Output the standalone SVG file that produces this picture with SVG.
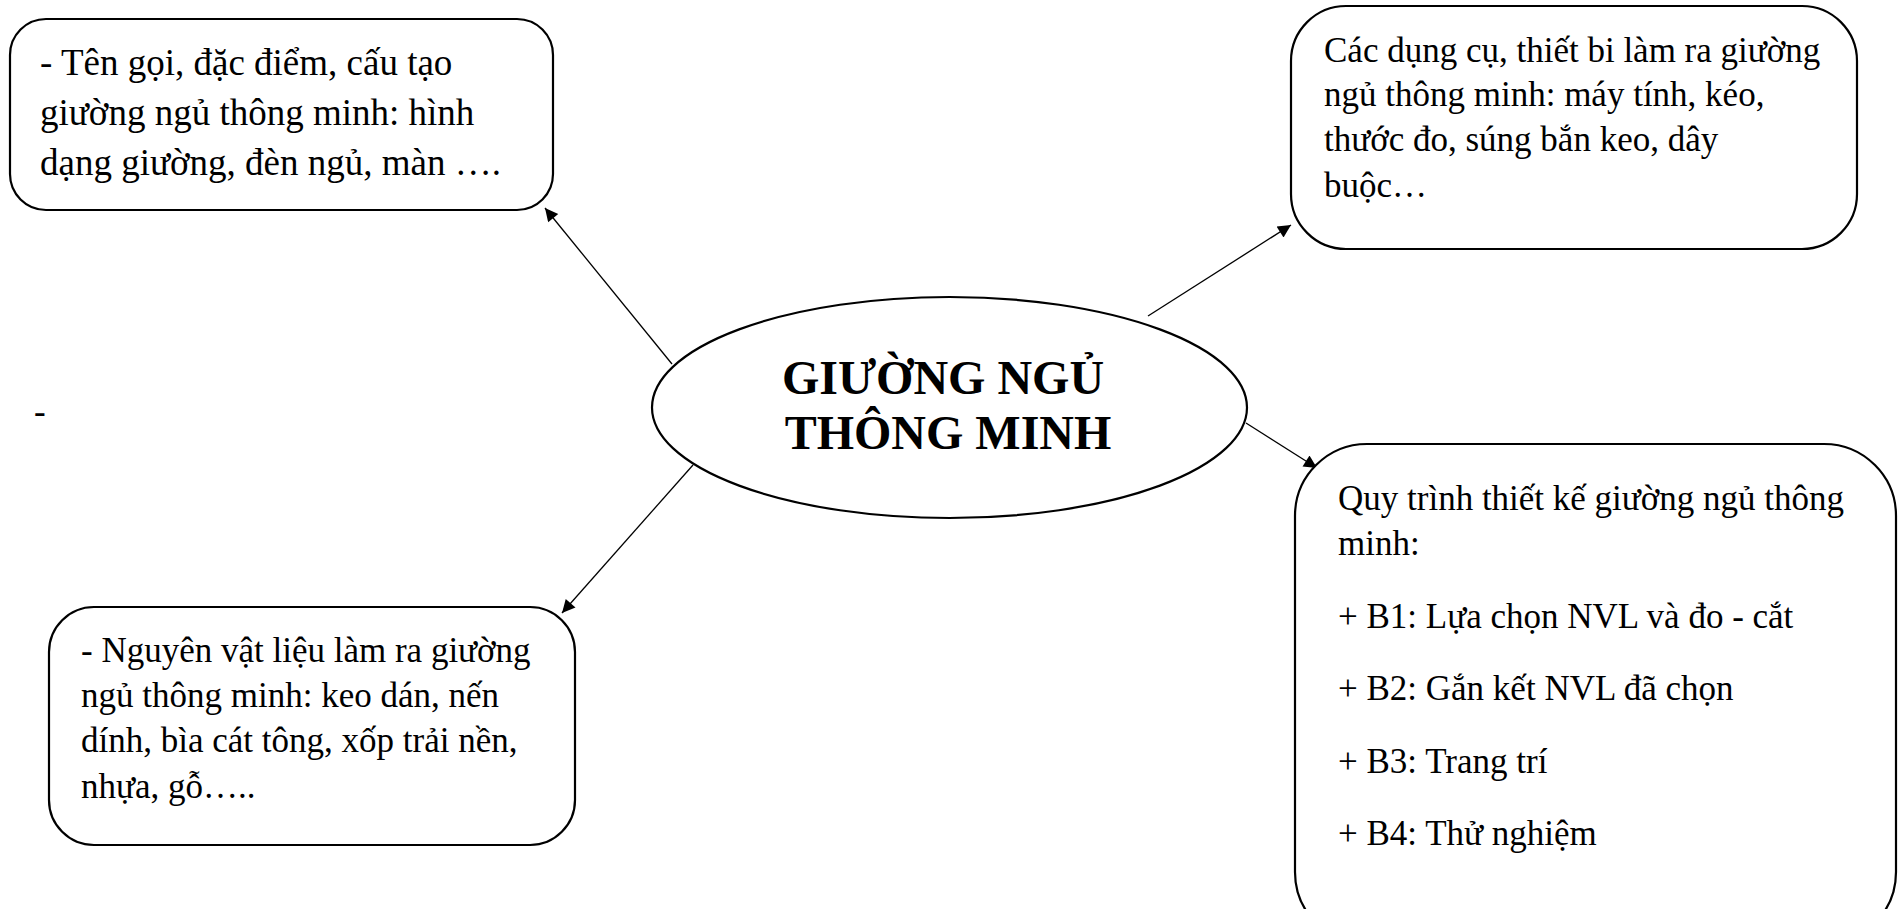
<svg xmlns="http://www.w3.org/2000/svg" width="1899" height="909" viewBox="0 0 1899 909">
<style>
.box{fill:#fff;stroke:#000;stroke-width:2.2}
.t{font-family:"Liberation Serif","Times New Roman",serif;font-size:35px;fill:#000}
.t1{font-size:37px}
.title{font-family:"Liberation Serif","Times New Roman",serif;font-size:48px;font-weight:bold;fill:#000;text-anchor:middle}
.edge{stroke:#000;stroke-width:1.3;fill:none}
</style>
<defs>
<marker id="arr" viewBox="0 0 10 10" refX="10" refY="5" markerWidth="17" markerHeight="13" markerUnits="userSpaceOnUse" orient="auto">
<path d="M0,0 L10,5 L0,10 z" fill="#000"/>
</marker>
</defs>
<rect width="1899" height="909" fill="#fff"/>
<g id="connectors">
<line class="edge" x1="672" y1="364" x2="545" y2="208" marker-end="url(#arr)"/>
<line class="edge" x1="1148" y1="316" x2="1291" y2="225" marker-end="url(#arr)"/>
<line class="edge" x1="1246" y1="423" x2="1317" y2="468" marker-end="url(#arr)"/>
<line class="edge" x1="693" y1="465" x2="562" y2="613" marker-end="url(#arr)"/>
</g>
<g id="center">
<ellipse cx="949.5" cy="407.5" rx="297.5" ry="110.5" class="box"/>
<text class="title" x="943" y="394">GIƯỜNG NGỦ</text>
<text class="title" x="948" y="449">THÔNG MINH</text>
</g>
<g id="box-features">
<rect x="10" y="19" width="543" height="191" rx="36" ry="36" class="box"/>
<text class="t t1" x="40" y="75">- Tên gọi, đặc điểm, cấu tạo</text>
<text class="t t1" x="40" y="125">giường ngủ thông minh: hình</text>
<text class="t t1" x="40" y="175">dạng giường, đèn ngủ, màn ….</text>
</g>
<g id="box-tools">
<rect x="1291" y="6" width="566" height="243" rx="55" ry="55" class="box"/>
<text class="t" x="1324" y="62">Các dụng cụ, thiết bi làm ra giường</text>
<text class="t" x="1324" y="106">ngủ thông minh: máy tính, kéo,</text>
<text class="t" x="1324" y="151">thước đo, súng bắn keo, dây</text>
<text class="t" x="1324" y="197">buộc…</text>
</g>
<g id="box-materials">
<rect x="49" y="607" width="526" height="238" rx="45" ry="45" class="box"/>
<text class="t" x="81" y="662">- Nguyên vật liệu làm ra giường</text>
<text class="t" x="81" y="707">ngủ thông minh: keo dán, nến</text>
<text class="t" x="81" y="752">dính, bìa cát tông, xốp trải nền,</text>
<text class="t" x="81" y="798">nhựa, gỗ…..</text>
</g>
<g id="box-process">
<rect x="1295" y="444" width="601" height="500" rx="72" ry="72" class="box"/>
<text class="t" x="1338" y="510">Quy trình thiết kế giường ngủ thông</text>
<text class="t" x="1338" y="555">minh:</text>
<text class="t" x="1338" y="628">+ B1: Lựa chọn NVL và đo - cắt</text>
<text class="t" x="1338" y="700">+ B2: Gắn kết NVL đã chọn</text>
<text class="t" x="1338" y="773">+ B3: Trang trí</text>
<text class="t" x="1338" y="845">+ B4: Thử nghiệm</text>
</g>
<text class="t" x="34" y="423">-</text>
</svg>
